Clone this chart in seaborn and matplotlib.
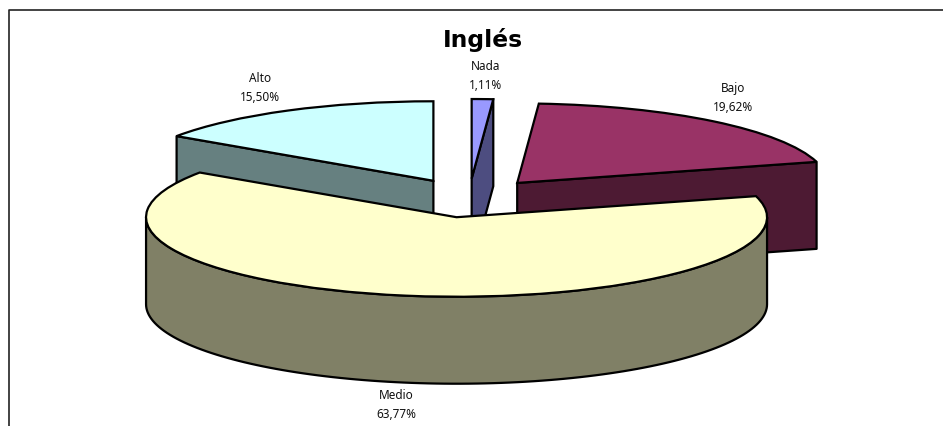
import numpy as np
import matplotlib
matplotlib.use("Agg")
import matplotlib.pyplot as plt
import seaborn as sns

categories = ["Nada", "Bajo", "Medio", "Alto"]
values = [1.11, 19.62, 63.77, 15.50]
top_colors = ["#9999FF", "#993366", "#FFFFCC", "#CCFFFF"]
wall_colors = ["#4D4D80", "#4D1A33", "#808066", "#668080"]

W, H = 943, 427
# pie scale in pixels
RX, RY = 310.5, 79.5
CX, CY = 469.0, 199.0
DEPTH = 87.0 / RY
LW = 1.6

sns.set_theme(style="white")
plt.rcParams["font.family"] = ["Noto Sans", "DejaVu Sans"]

fig = plt.figure(figsize=(W / 100, H / 100), dpi=100)
ax = fig.add_axes([0, 0, 1, 1])

wedges, _ = ax.pie(values, colors=top_colors, explode=[0.245] * 4, startangle=90,
                   counterclock=False, radius=1,
                   wedgeprops=dict(edgecolor="black", linewidth=LW))
ax.set_aspect("auto")
ax.set_xlim(-CX / RX, (W - CX) / RX)
ax.set_ylim(-(H - CY) / RY, CY / RY)
ax.set_axis_off()


def rim(w, deg):
    t = np.radians(deg)
    return np.array([w.center[0] + w.r * np.cos(t), w.center[1] + w.r * np.sin(t)])


def draw_walls(w, color, z):
    """Extruded faces of one slice, only those turned to the viewer"""
    kw = dict(facecolor=color, edgecolor="black", linewidth=LW, joinstyle="round", zorder=z)
    down = np.array([0, -DEPTH])
    apex = np.array(w.center)
    for deg, normal in ((w.theta1, w.theta1 - 90), (w.theta2, w.theta2 + 90)):
        if np.sin(np.radians(normal)) < -1e-6:
            p = rim(w, deg)
            ax.fill(*zip(apex, p, p + down, apex + down), **kw)
    a, b = max(w.theta1, -180), min(w.theta2, 0)
    if a < b:
        arc = np.array([rim(w, d) for d in np.linspace(a, b, 120)])
        band = np.vstack([arc, (arc + down)[::-1]])
        ax.fill(band[:, 0], band[:, 1], **kw)


# back slices first, Medio sits in front of them
for i, name in enumerate(categories):
    z = 5 if name == "Medio" else 1
    draw_walls(wedges[i], wall_colors[i], z)
    wedges[i].set_zorder(z + 1)

# only top and left of the chart frame are in the picture
ax.plot([8.5 / W, 8.5 / W, 1], [0, 1 - 11 / H, 1 - 11 / H],
        transform=ax.transAxes, color="#222222", lw=1.2, clip_on=False, zorder=10)

fig.text(483 / W, 1 - 40 / H, "Inglés", family=["DejaVu Sans"], fontsize=16.8, fontweight="bold",
         ha="center", va="center", color="black")

label_pos = {"Nada": (486, 76), "Bajo": (733, 98), "Medio": (396, 405), "Alto": (260, 88)}
for name, v in zip(categories, values):
    x, y = label_pos[name]
    txt = name + "\n" + f"{v:.2f}".replace(".", ",") + "%"
    fig.text(x / W, 1 - y / H, txt, fontsize=8.5, ha="center", va="center",
             color="#111111", linespacing=1.65)

fig.savefig("out.png", dpi=100)
